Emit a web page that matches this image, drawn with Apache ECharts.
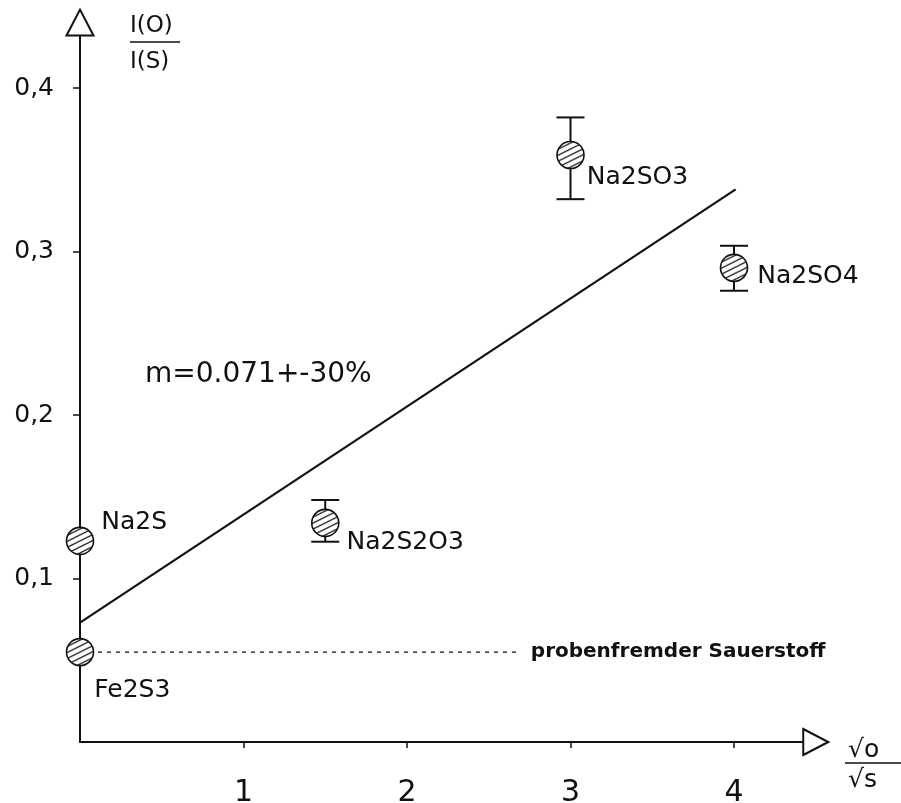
<!DOCTYPE html>
<html>
<head>
<meta charset="utf-8">
<script src="https://cdn.jsdelivr.net/npm/echarts@6/dist/echarts.min.js"></script>
<style>
  html, body { margin: 0; padding: 0; background: #fff; }
  #chart { width: 901px; height: 803px; }
</style>
</head>
<body>
<div id="chart"></div>
<script>
// Samples: name, x = sqrt(o)/sqrt(s), y = I(O)/I(S), error range
const sampleNames = ['Na2S', 'Fe2S3', 'Na2S2O3', 'Na2SO3', 'Na2SO4'];
const sampleX     = [0, 0, 1.5, 3, 4];
const sampleY     = [0.123, 0.055, 0.134, 0.359, 0.290];
const errLow      = [null, null, 0.1225, 0.332, 0.276];
const errHigh     = [null, null, 0.148, 0.382, 0.3035];

// Fitted line end points
const fitX = [0, 4.01];
const fitY = [0.073, 0.338];

// Background oxygen level (dashed)
const bgLevel = 0.055;
const bgXEnd = 2.69;
const bgText = 'probenfremder Sauerstoff';

const slopeText = 'm=0.071+-30%';

// Axis ticks
const xTicks = [1, 2, 3, 4];
const yTicks = [0.1, 0.2, 0.3, 0.4];
const xMax = 4.5;
const yMax = 0.44;

const FONT = 'DejaVu Sans';
const INK = '#111';
const SYMBOL_SIZE = 27;

// Label placement for each sample (style only)
const labelOffsets = {
  'Na2S':    [7, -18],
  'Fe2S3':   [0, 38],
  'Na2S2O3': [7, 20],
  'Na2SO3':  [2, 22],
  'Na2SO4':  [9, 9]
};

// Hatch pattern for the sample circles
function makeHatch() {
  const c = document.createElement('canvas');
  c.width = 12; c.height = 6;
  const g = c.getContext('2d');
  g.fillStyle = '#fff';
  g.fillRect(0, 0, 12, 6);
  g.strokeStyle = '#222';
  g.lineWidth = 1.3;
  g.beginPath();
  g.moveTo(-12, 12); g.lineTo(12, 0);
  g.moveTo(-12, 6); g.lineTo(12, -6);
  g.moveTo(0, 12); g.lineTo(24, 0);
  g.stroke();
  return c;
}
// symbols are drawn in a unit box scaled by size/2, so undo that scale for the pattern
const hatch = {
  image: makeHatch(), repeat: 'repeat',
  scaleX: 2 / SYMBOL_SIZE, scaleY: 2 / SYMBOL_SIZE
};

const sampleData = sampleNames.map((n, i) => ({
  name: n,
  value: [sampleX[i], sampleY[i]],
  label: { offset: labelOffsets[n] }
}));

const errData = [];
sampleNames.forEach((n, i) => {
  if (errLow[i] != null) errData.push([sampleX[i], errLow[i], errHigh[i]]);
});

const chart = echarts.init(document.getElementById('chart'), null, { renderer: 'canvas' });

chart.setOption({
  animation: false,
  backgroundColor: '#fff',
  grid: {
    left: 80, right: 901 - 80 - xMax * 163.5, top: 742 - yMax * 1635, bottom: 61,
    containLabel: false, outerBoundsMode: 'none'
  },
  xAxis: {
    type: 'value', min: 0, max: xMax, interval: 1,
    axisLine: { onZero: false, lineStyle: { color: INK, width: 2 } },
    axisTick: { show: true, customValues: xTicks, length: 6, lineStyle: { color: INK, width: 1.5 } },
    axisLabel: { customValues: xTicks, fontFamily: FONT, fontSize: 30, color: INK, margin: 36 },
    splitLine: { show: false }
  },
  yAxis: {
    type: 'value', min: 0, max: yMax, interval: 0.1,
    axisLine: { onZero: false, lineStyle: { color: INK, width: 2 } },
    axisTick: { show: true, customValues: yTicks, length: 7, lineStyle: { color: INK, width: 1.5 } },
    axisLabel: {
      customValues: yTicks, fontFamily: FONT, fontSize: 25, color: INK, margin: 26,
      padding: [13, 0, 0, 0],
      formatter: v => v.toFixed(1).replace('.', ',')
    },
    splitLine: { show: false }
  },
  series: [
    {
      type: 'line', name: 'fit',
      data: fitX.map((x, i) => [x, fitY[i]]),
      symbol: 'none', silent: true, z: 2,
      lineStyle: { color: INK, width: 2.2 }
    },
    {
      type: 'line', name: 'background',
      data: [[0, bgLevel], [bgXEnd, bgLevel]],
      symbol: 'none', silent: true, z: 2,
      lineStyle: { color: INK, width: 1.3, type: [4, 5] },
      endLabel: {
        show: true, formatter: bgText, distance: 11,
        fontFamily: FONT, fontSize: 20, fontWeight: 'bold', color: INK
      }
    },
    {
      type: 'custom', name: 'errors',
      data: errData, z: 3, silent: true,
      renderItem: (params, api) => {
        const x = api.value(0);
        const top = api.coord([x, api.value(2)]);
        const bot = api.coord([x, api.value(1)]);
        const hw = 14;
        const st = { stroke: INK, lineWidth: 2 };
        return {
          type: 'group',
          children: [
            { type: 'line', shape: { x1: top[0], y1: top[1], x2: bot[0], y2: bot[1] }, style: st },
            { type: 'line', shape: { x1: top[0] - hw, y1: top[1], x2: top[0] + hw, y2: top[1] }, style: st },
            { type: 'line', shape: { x1: bot[0] - hw, y1: bot[1], x2: bot[0] + hw, y2: bot[1] }, style: st }
          ]
        };
      }
    },
    {
      type: 'scatter', name: 'samples',
      data: sampleData, z: 4, clip: false,
      symbol: 'circle', symbolSize: SYMBOL_SIZE,
      itemStyle: { color: hatch, borderColor: INK, borderWidth: 1.6, opacity: 1 },
      label: {
        show: true, position: 'right', distance: 0,
        formatter: p => p.name,
        fontFamily: FONT, fontSize: 25, color: INK
      }
    },
    {
      type: 'scatter', name: 'arrows', z: 5, clip: false, silent: true,
      symbol: 'triangle',
      data: [
        { value: [0, yMax], symbolSize: [27, 26], symbolRotate: 0 },
        { value: [xMax, 0], symbolSize: [26, 25], symbolRotate: -90 }
      ],
      itemStyle: { color: '#fff', borderColor: INK, borderWidth: 2, opacity: 1 }
    }
  ],
  graphic: [
    { type: 'text', left: 130, top: 15, style: { text: 'I(O)', font: '23px "DejaVu Sans"', fill: INK } },
    { type: 'line', shape: { x1: 130, y1: 42, x2: 180, y2: 42 }, style: { stroke: INK, lineWidth: 1.5 } },
    { type: 'text', left: 130, top: 51, style: { text: 'I(S)', font: '23px "DejaVu Sans"', fill: INK } },

    { type: 'text', left: 848, top: 738, style: { text: '√o', font: '25px "DejaVu Sans"', fill: INK } },
    { type: 'line', shape: { x1: 845, y1: 763, x2: 901, y2: 763 }, style: { stroke: INK, lineWidth: 1.5 } },
    { type: 'text', left: 848, top: 768, style: { text: '√s', font: '25px "DejaVu Sans"', fill: INK } },

    { type: 'text', left: 145, top: 361, style: { text: slopeText, font: '28px "DejaVu Sans"', fill: INK } }
  ]
});
</script>
</body>
</html>
